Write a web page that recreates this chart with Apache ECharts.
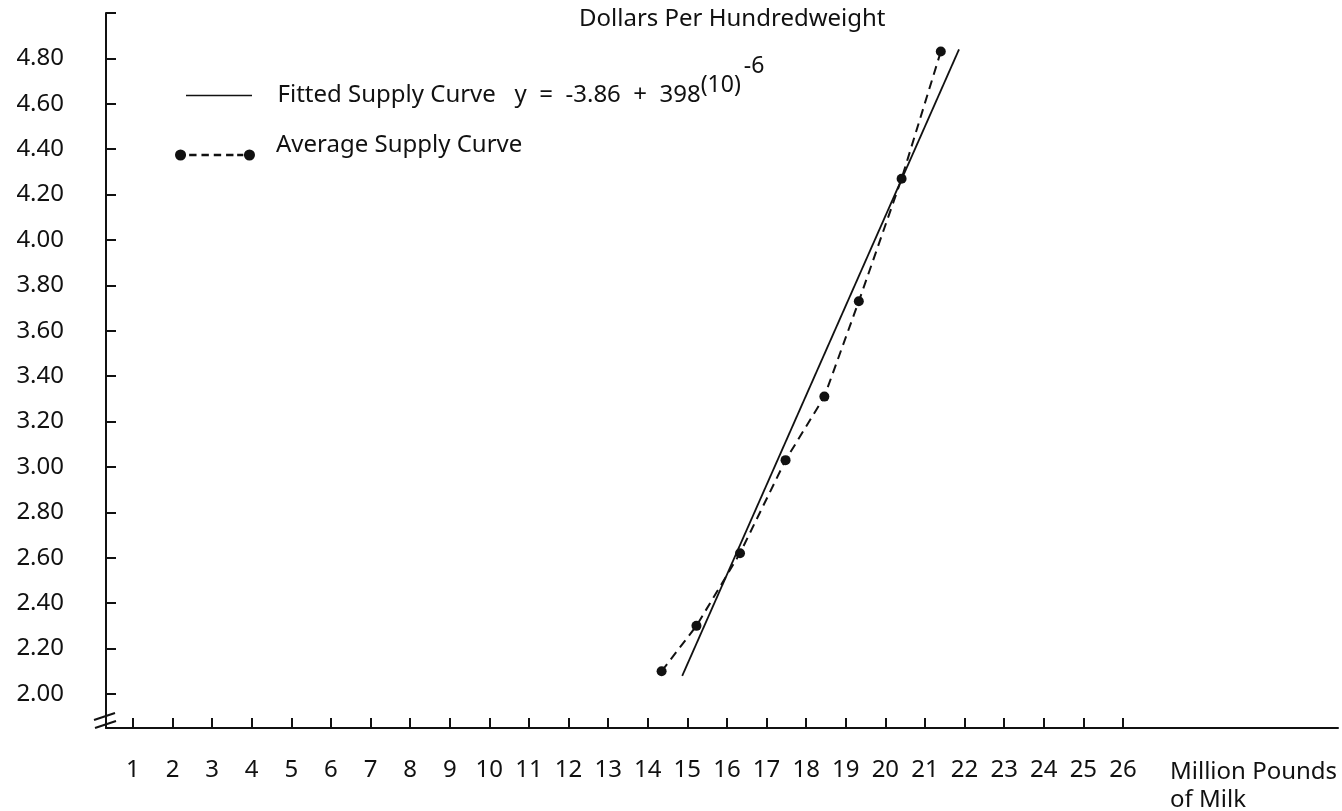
<!DOCTYPE html>
<html><head><meta charset="utf-8">
<script src="https://cdn.jsdelivr.net/npm/echarts@6/dist/echarts.min.js"></script>
<style>html,body{margin:0;padding:0;background:#fff}#c{width:1342px;height:811px}</style>
</head><body><div id="c"></div>
<script>
// ---- data ----
const xTickValues = [1,2,3,4,5,6,7,8,9,10,11,12,13,14,15,16,17,18,19,20,21,22,23,24,25,26];
const yTickValues = [2.0,2.2,2.4,2.6,2.8,3.0,3.2,3.4,3.6,3.8,4.0,4.2,4.4,4.6,4.8,5.0];
const yLabelValues = [2.0,2.2,2.4,2.6,2.8,3.0,3.2,3.4,3.6,3.8,4.0,4.2,4.4,4.6,4.8];
const avgX = [14.35,15.23,16.33,17.48,18.46,19.33,20.41,21.40];
const avgY = [2.10,2.30,2.62,3.03,3.31,3.73,4.27,4.83];
const fittedX = [14.87,21.86];
const fittedY = [2.08,4.84];
const seriesNames = ['Fitted Supply Curve','Average Supply Curve'];

const FONT = 'Noto Sans';
const INK = '#111';
const zip = (a,b) => a.map((v,i) => [v,b[i]]);

const iconFitted = 'path://M0,4.2 H66 V5.8 H0 Z M0,0 h0.02 v0.02 h-0.02 Z M65.98,9.98 h0.02 v0.02 h-0.02 Z';
const iconAvg = 'path://M0.5,5 a4.5,4.5 0 1,0 9,0 a4.5,4.5 0 1,0 -9,0 Z M12,4 h6 v2 h-6 Z M22,4 h6 v2 h-6 Z M32,4 h6 v2 h-6 Z M42,4 h6 v2 h-6 Z M51,4 h5 v2 h-5 Z M56.5,5 a4.5,4.5 0 1,0 9,0 a4.5,4.5 0 1,0 -9,0 Z';

const chart = echarts.init(document.getElementById('c'), null, {renderer:'canvas'});
chart.setOption({
  backgroundColor: '#fff',
  animation: false,
  textStyle: {fontFamily: FONT, color: INK},
  title: [
    {text: 'Dollars Per Hundredweight', left: 574, top: 2,
     textStyle: {fontFamily: FONT, fontSize: 24, fontWeight: 'normal', color: INK}},
    {text: 'Million Pounds\nof Milk', left: 1165, top: 753,
     textStyle: {fontFamily: FONT, fontSize: 24, fontWeight: 'normal', color: INK, lineHeight: 28}}
  ],
  legend: [
    {data: [{name: seriesNames[0], icon: iconFitted}], left: 181, top: 50, orient: 'vertical',
     itemWidth: 67, itemHeight: 10, selectedMode: false, itemStyle: {borderWidth: 0},
     formatter: () => '{sp|}{t|Fitted Supply Curve   y  =  -3.86  +  398}{s|(10)}{g|}{e|-6}',
     textStyle: {fontFamily: FONT, fontSize: 24, color: INK,
       rich: {
         sp: {width: 20},
         g: {width: 3},
         t: {fontFamily: FONT, fontSize: 24, color: INK, verticalAlign: 'middle', padding: [0,0,0,0]},
         s: {fontFamily: FONT, fontSize: 23, color: INK, verticalAlign: 'middle', padding: [0,0,20,0]},
         e: {fontFamily: FONT, fontSize: 23, color: INK, verticalAlign: 'middle', padding: [0,0,58,0]}
       }}},
    {data: [{name: seriesNames[1], icon: iconAvg}], left: 170, top: 128, orient: 'vertical',
     itemWidth: 80, itemHeight: 12, selectedMode: false, itemStyle: {borderWidth: 0},
     formatter: () => '{sp|}{t|Average Supply Curve}',
     textStyle: {fontFamily: FONT, fontSize: 24, color: INK,
       rich: {
         sp: {width: 16},
         t: {fontFamily: FONT, fontSize: 24, color: INK, verticalAlign: 'middle', padding: [0,0,20,0]}
       }}}
  ],
  grid: {left: 106, right: 4, top: 13, bottom: 83, containLabel: false},
  xAxis: {
    type: 'value', min: 0.32, max: 31.43,
    axisLine: {show: true, lineStyle: {color: INK, width: 2}},
    axisTick: {show: true, inside: true, length: 10, customValues: xTickValues, lineStyle: {color: INK, width: 2}},
    axisLabel: {customValues: xTickValues, margin: 30, fontFamily: FONT, fontSize: 24, color: INK},
    splitLine: {show: false}
  },
  yAxis: {
    type: 'value', min: 1.85, max: 5.0,
    axisLine: {show: true, lineStyle: {color: INK, width: 2}},
    axisTick: {show: true, inside: true, length: 10, customValues: yTickValues, lineStyle: {color: INK, width: 2}},
    axisLabel: {customValues: yLabelValues, margin: 42, fontFamily: FONT, fontSize: 24, color: INK,
      formatter: v => v.toFixed(2)},
    splitLine: {show: false}
  },
  graphic: [
    {type: 'line', shape: {x1: 94, y1: 720, x2: 115, y2: 713}, style: {stroke: INK, lineWidth: 2}},
    {type: 'line', shape: {x1: 95, y1: 728, x2: 116, y2: 721}, style: {stroke: INK, lineWidth: 2}}
  ],
  series: [
    {name: seriesNames[0], type: 'line', data: zip(fittedX, fittedY), showSymbol: false, symbol: 'none',
     color: INK, lineStyle: {color: INK, width: 1.8}, silent: true, z: 2},
    {name: seriesNames[1], type: 'line', data: zip(avgX, avgY), symbol: 'circle', symbolSize: 10,
     color: INK, itemStyle: {color: INK}, lineStyle: {color: INK, width: 2, type: [9,6]}, silent: true, z: 3}
  ]
});
</script></body></html>
